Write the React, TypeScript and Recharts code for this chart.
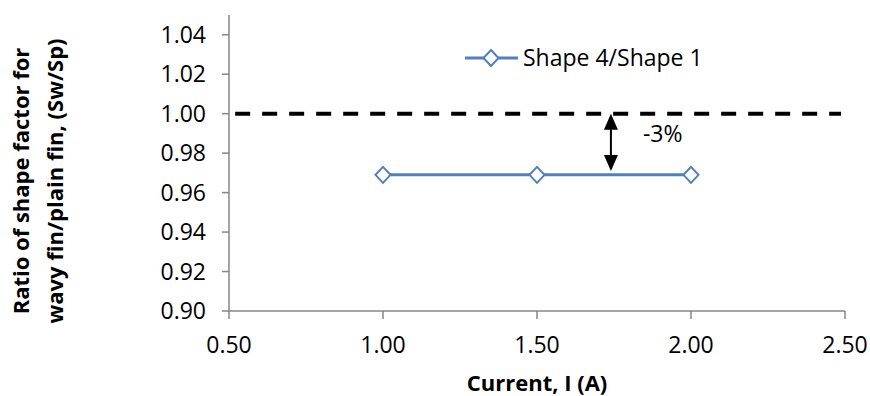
import React from 'react';
import { LineChart, Line, XAxis, YAxis, ReferenceLine, Legend, Label } from 'recharts';

// ---- data ----
const currents = [1.0, 1.5, 2.0];
const ratioShape4Shape1 = [0.969, 0.969, 0.969];
const xTicks = [0.5, 1.0, 1.5, 2.0, 2.5];
const yTicks = [0.9, 0.92, 0.94, 0.96, 0.98, 1.0, 1.02, 1.04];
const xDomain = [0.5, 2.5];
const yDomain = [0.9, 1.05];
const baselineRatio = 1.0;
const baselineSpan = [0.52, 2.487];
const arrowX = 1.74;
const arrowBottom = 0.971;
const annotation = '-3%';
const seriesName = 'Shape 4/Shape 1';
const xTitle = 'Current, I (A)';
const yTitleLines = ['Ratio of shape factor for', 'wavy fin/plain fin, (Sw/Sp)'];

const data = currents.map((c, i) => ({ current: c, ratio: ratioShape4Shape1[i] }));

// ---- styles ----
const FONT = '"Open Sans", sans-serif';
const BLUE = '#4F81BD';
const AXIS = '#868686';

const Diamond = (props: any) => {
  const { cx, cy, index } = props;
  if (cx == null || cy == null) return <g key={`d-${index}`} />;
  return (
    <path
      key={`d-${index}`}
      d={`M${cx},${cy - 8} L${cx + 7.5},${cy} L${cx},${cy + 8} L${cx - 7.5},${cy} Z`}
      fill="#fff"
      stroke={BLUE}
      strokeWidth={2}
    />
  );
};

const ArrowShape = (props: any) => {
  const { x1, y1, x2, y2 } = props;
  const x = x1;
  const top = Math.min(y1, y2);
  const bot = Math.max(y1, y2);
  const hw = 7;
  const hh = 16;
  return (
    <g>
      <line x1={x} y1={top + hh - 1} x2={x} y2={bot - hh + 1} stroke="#000" strokeWidth={2} />
      <polygon points={`${x},${top} ${x - hw},${top + hh} ${x + hw},${top + hh}`} fill="#000" />
      <polygon points={`${x},${bot} ${x - hw},${bot - hh} ${x + hw},${bot - hh}`} fill="#000" />
      <text x={x + 32} y={top + 28} fontFamily={FONT} fontSize={23} fill="#000">
        {annotation}
      </text>
    </g>
  );
};

const renderLegend = (props: any) => {
  const name = props?.payload?.[0]?.value ?? seriesName;
  return (
    <svg width={260} height={32} style={{ overflow: 'visible' }}>
      <line x1={2} y1={14} x2={55} y2={14} stroke={BLUE} strokeWidth={3} />
      <path d={`M28,6 L35.5,14 L28,22 L20.5,14 Z`} fill="#fff" stroke={BLUE} strokeWidth={2} />
      <text x={60} y={22} fontFamily={FONT} fontSize={23} fill="#000">
        {name}
      </text>
    </svg>
  );
};

const renderYTitle = (props: any) => {
  const vb = props.viewBox || {};
  const cy = (vb.y ?? 15) + (vb.height ?? 296) / 2 + 18;
  const baseXs = [29, 63];
  return (
    <g>
      {yTitleLines.map((t, i) => (
        <text
          key={i}
          x={baseXs[i]}
          y={cy}
          transform={`rotate(-90 ${baseXs[i]} ${cy})`}
          textAnchor="middle"
          fontFamily={FONT}
          fontWeight="bold"
          fontSize={22}
          fill="#000"
        >
          {t}
        </text>
      ))}
    </g>
  );
};

const renderXTitle = (props: any) => {
  const vb = props.viewBox || {};
  const cx = (vb.x ?? 229) + (vb.width ?? 616) / 2;
  const y = (vb.y ?? 311) + 80;
  return (
    <text x={cx} y={y} textAnchor="middle" fontFamily={FONT} fontWeight="bold" fontSize={22} fill="#000">
      {xTitle}
    </text>
  );
};

export default function App() {
  return (
    <div style={{ position: 'absolute', left: 0, top: 0, width: 870, height: 396, background: '#fff' }}>
      <LineChart
        width={870}
        height={396}
        data={data}
        margin={{ top: 15, right: 25, bottom: 0, left: 0 }}
      >
        <XAxis
          dataKey="current"
          type="number"
          domain={xDomain}
          ticks={xTicks}
          allowDataOverflow
          tickFormatter={(v: number) => v.toFixed(2)}
          height={85}
          tickSize={8}
          tickMargin={18}
          stroke={AXIS}
          axisLine={{ stroke: AXIS, strokeWidth: 1.5 }}
          tickLine={{ stroke: AXIS, strokeWidth: 1.5 }}
          tick={{ fill: '#000', fontSize: 23, fontFamily: FONT }}
        >
          <Label content={renderXTitle} />
        </XAxis>
        <YAxis
          type="number"
          domain={yDomain}
          ticks={yTicks}
          allowDataOverflow
          interval={0}
          tickFormatter={(v: number) => v.toFixed(2)}
          width={229}
          tickSize={7}
          tickMargin={16}
          stroke={AXIS}
          axisLine={{ stroke: AXIS, strokeWidth: 1.5 }}
          tickLine={{ stroke: AXIS, strokeWidth: 1.5 }}
          tick={{ fill: '#000', fontSize: 23, fontFamily: FONT }}
        >
          <Label content={renderYTitle} />
        </YAxis>
        <ReferenceLine
          segment={[
            { x: baselineSpan[0], y: baselineRatio },
            { x: baselineSpan[1], y: baselineRatio },
          ]}
          stroke="#000"
          strokeWidth={4}
          strokeDasharray="15 12"
        />
        <ReferenceLine
          segment={[
            { x: arrowX, y: baselineRatio },
            { x: arrowX, y: arrowBottom },
          ]}
          shape={ArrowShape}
        />
        <Line
          type="linear"
          dataKey="ratio"
          name={seriesName}
          stroke={BLUE}
          strokeWidth={3}
          dot={Diamond}
          activeDot={false}
          isAnimationActive={false}
        />
        <Legend
          layout="horizontal"
          verticalAlign="middle"
          align="center"
          content={renderLegend}
          wrapperStyle={{ position: 'absolute', left: 463, top: 44, width: 260, height: 32 }}
        />
      </LineChart>
    </div>
  );
}
